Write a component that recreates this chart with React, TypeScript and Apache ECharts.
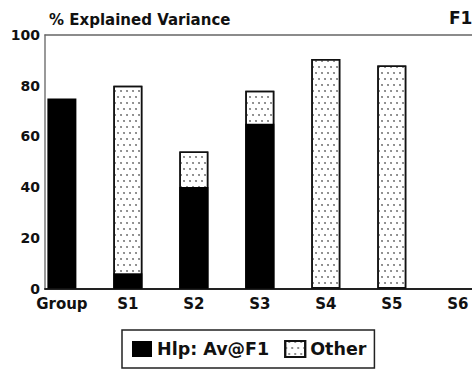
import React, { useEffect, useRef } from "react";
import * as echarts from "echarts";

const categories = ["Group", "S1", "S2", "S3", "S4", "S5", "S6"];
const hipValues: (number | null)[] = [75, 6, 40, 65, null, null, null];
const otherValues: (number | null)[] = [null, 74, 14, 13, 90.5, 88, null];
const yMin = 0;
const yMax = 100;
const yInterval = 20;

const FONT = "DejaVu Sans";

export default function App() {
  const ref = useRef<HTMLDivElement>(null);
  useEffect(() => {
    if (!ref.current) return;
    const chart = echarts.init(ref.current, undefined, { renderer: "svg" });
    const hipData = hipValues.map((v, i) => [i, v]);
    // "Other" is drawn as the full stack (hip + other) behind the black "Hlp" bars
    const otherData = otherValues.map((v, i) => [i, v == null ? null : v + (hipValues[i] ?? 0)]);
    const xMin = -0.256;
    const xMax = 6.64;
    chart.setOption({
      animation: false,
      backgroundColor: "#fff",
      title: [
        {
          text: "% Explained Variance",
          left: 49,
          top: 12,
          padding: 0,
          textStyle: { fontFamily: FONT, fontWeight: "bold", fontSize: 15, color: "#111" },
        },
        {
          text: "F1",
          left: 449,
          top: 9,
          padding: 0,
          textStyle: { fontFamily: FONT, fontWeight: "bold", fontSize: 17, color: "#111" },
        },
      ],
      grid: { left: 45, top: 35, width: 455, height: 253.5, show: false },
      legend: {
        left: 122,
        top: 330,
        orient: "horizontal",
        padding: [10, 8, 10, 10],
        itemWidth: 20,
        itemHeight: 16,
        itemGap: 15,
        borderColor: "#222",
        borderWidth: 1.5,
        borderRadius: 0,
        icon: "rect",
        textStyle: { fontFamily: FONT, fontWeight: "bold", fontSize: 17.5, color: "#111" },
        data: ["Hlp: Av@F1", "Other"],
      },
      xAxis: [
        {
          type: "value",
          min: xMin,
          max: xMax,
          minInterval: 1,
          maxInterval: 1,
          position: "bottom",
          splitLine: { show: false },
          axisTick: { show: false },
          axisLine: { show: true, onZero: false, lineStyle: { color: "#222", width: 2 } },
          axisLabel: {
            margin: 8,
            showMinLabel: false,
            showMaxLabel: false,
            fontFamily: FONT,
            fontWeight: "bold",
            fontSize: 15,
            color: "#111",
            formatter: (v: number) =>
              Math.abs(v - Math.round(v)) < 1e-6 ? categories[Math.round(v)] ?? "" : "",
          },
        },
        {
          type: "value",
          min: xMin,
          max: xMax,
          position: "top",
          splitLine: { show: false },
          axisTick: { show: false },
          axisLabel: { show: false },
          axisLine: { show: true, onZero: false, lineStyle: { color: "#666", width: 1.5 } },
        },
      ],
      yAxis: {
        type: "value",
        min: yMin,
        max: yMax,
        interval: yInterval,
        splitLine: { show: false },
        axisTick: { show: false },
        axisLine: { show: true, onZero: false, lineStyle: { color: "#777", width: 1.5 } },
        axisLabel: {
          margin: 5,
          fontFamily: FONT,
          fontWeight: "bold",
          fontSize: 14,
          color: "#111",
        },
      },
      series: [
        {
          name: "Other",
          type: "bar",
          barWidth: 29,
          barGap: "-100%",
          data: otherData,
          itemStyle: {
            color: "#fff",
            borderColor: "#111",
            borderWidth: 1.5,
            decal: {
              symbol: "circle",
              symbolSize: 0.8,
              color: "#555",
              dashArrayX: [
                [2, 4],
                [0, 3, 2, 1],
              ],
              dashArrayY: [2, 4],
            },
          },
        },
        {
          name: "Hlp: Av@F1",
          type: "bar",
          barWidth: 29,
          barGap: "-100%",
          data: hipData,
          itemStyle: { color: "#000" },
        },
      ],
    });
    return () => chart.dispose();
  }, []);
  return (
    <div style={{ position: "fixed", left: 0, top: 0, width: 472, height: 372, overflow: "hidden", background: "#fff" }}>
      <div ref={ref} style={{ width: 520, height: 372 }} />
    </div>
  );
}
